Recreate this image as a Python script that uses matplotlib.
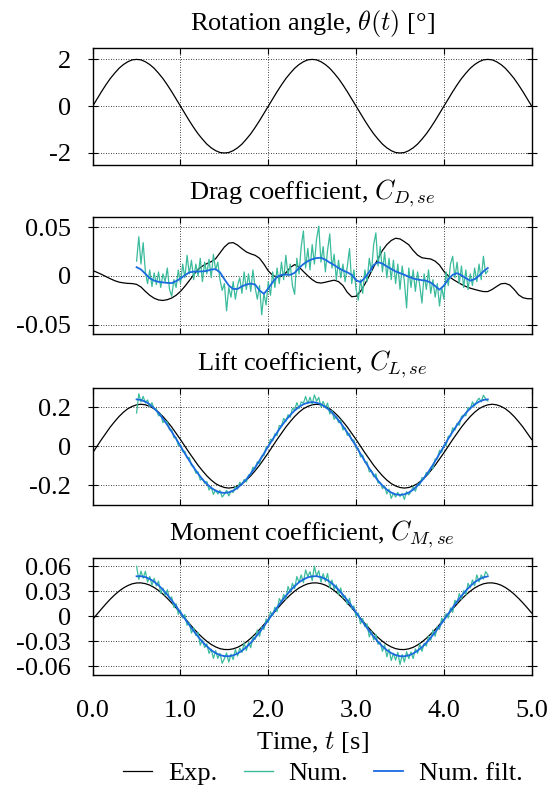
import numpy as np
import matplotlib
matplotlib.use('Agg')
import matplotlib.pyplot as plt
from matplotlib.lines import Line2D

plt.rcParams['font.family'] = ['Liberation Serif', 'DejaVu Serif']
plt.rcParams['mathtext.fontset'] = 'cm'
plt.rcParams['axes.unicode_minus'] = False
FS = 19

# ---------------- data ----------------
# Rotation angle (experiment), t = 0 .. 5 s, 0.05 s step
theta_exp = [0, 0.31, 0.62, 0.91, 1.18, 1.41, 1.62, 1.78, 1.90, 1.98, 2.00, 1.98, 1.90, 1.78, 1.62, 1.41, 1.18, 0.91, 0.62, 0.31,
             0, -0.31, -0.62, -0.91, -1.18, -1.41, -1.62, -1.78, -1.90, -1.98, -2.00, -1.98, -1.90, -1.78, -1.62, -1.41, -1.18, -0.91, -0.62, -0.31,
             0, 0.31, 0.62, 0.91, 1.18, 1.41, 1.62, 1.78, 1.90, 1.98, 2.00, 1.98, 1.90, 1.78, 1.62, 1.41, 1.18, 0.91, 0.62, 0.31,
             0, -0.31, -0.62, -0.91, -1.18, -1.41, -1.62, -1.78, -1.90, -1.98, -2.00, -1.98, -1.90, -1.78, -1.62, -1.41, -1.18, -0.91, -0.62, -0.31,
             0, 0.31, 0.62, 0.91, 1.18, 1.41, 1.62, 1.78, 1.90, 1.98, 2.00, 1.98, 1.90, 1.78, 1.62, 1.41, 1.18, 0.91, 0.62, 0.31,
             0]

# Drag coefficient (experiment), t = 0 .. 5 s, 0.05 s step
cd_exp = [0.0055, 0.0035, 0.0015, -0.0008, -0.0030, -0.0050, -0.0065, -0.0073, -0.0078, -0.0080,
          -0.0088, -0.0115, -0.0160, -0.0200, -0.0230, -0.0248, -0.0253, -0.0245, -0.0228, -0.0200,
          -0.0160, -0.0108, -0.0050, 0.0010, 0.0065, 0.0100, 0.0125, 0.0145, 0.0175, 0.0235,
          0.0295, 0.0335, 0.0340, 0.0315, 0.0278, 0.0245, 0.0225, 0.0210, 0.0180, 0.0120,
          0.0050, 0.0005, -0.0015, -0.0005, 0.0030, 0.0085, 0.0115, 0.0090, 0.0044, 0.0000,
          -0.0040, -0.0068, -0.0075, -0.0066, -0.0055, -0.0045, -0.0060, -0.0100, -0.0170, -0.0215,
          -0.0210, -0.0160, -0.0085, 0.0000, 0.0090, 0.0175, 0.0260, 0.0320, 0.0362, 0.0385,
          0.0378, 0.0350, 0.0318, 0.0260, 0.0212, 0.0185, 0.0178, 0.0172, 0.0150, 0.0110,
          0.0045, 0.0000, -0.0035, -0.0062, -0.0088, -0.0110, -0.0127, -0.0140, -0.0152, -0.0162,
          -0.0162, -0.0140, -0.0110, -0.0082, -0.0078, -0.0095, -0.0140, -0.0195, -0.0225, -0.0235,
          -0.0236]

# Drag coefficient (numerical, raw), t = 0.5 .. 4.5 s, 0.025 s step
cd_num = [0.015, 0.040, 0.012, 0.034, 0.004, -0.008, 0.006, -0.011, 0.003, -0.009,
          0.004, -0.012, 0.002, -0.006, 0.008, -0.014, -0.021, -0.004, -0.012, 0.006,
          -0.008, 0.012, -0.002, 0.021, 0.002, 0.016, -0.004, 0.012, 0.000, 0.018,
          -0.006, 0.014, 0.002, 0.017, -0.002, 0.022, 0.006, 0.014, -0.004, -0.015,
          -0.008, -0.036, -0.012, -0.022, -0.006, -0.024, -0.010, -0.002, -0.018, 0.004,
          -0.014, 0.002, -0.016, 0.006, -0.012, -0.024, -0.010, -0.040, -0.018, -0.030,
          -0.006, -0.020, 0.004, -0.012, 0.008, -0.008, 0.014, -0.004, 0.021, 0.000,
          0.012, -0.010, -0.019, 0.018, 0.002, 0.030, 0.046, 0.008, 0.028, 0.006,
          0.032, 0.012, 0.038, 0.051, 0.014, 0.030, 0.004, 0.026, 0.043, 0.008,
          0.022, -0.004, 0.016, -0.002, 0.012, -0.006, 0.010, 0.028, -0.008, 0.006,
          -0.014, -0.025, -0.004, -0.018, 0.006, -0.006, 0.018, 0.004, 0.032, 0.044,
          0.010, 0.030, 0.004, 0.024, -0.002, 0.018, -0.004, 0.016, -0.008, 0.012,
          -0.014, 0.010, -0.006, -0.033, 0.008, -0.012, 0.006, -0.016, 0.004, -0.010,
          -0.028, 0.002, -0.014, 0.006, -0.018, -0.004, -0.022, -0.008, -0.031, -0.012,
          -0.024, 0.004, -0.010, 0.012, 0.020, -0.002, 0.014, -0.008, 0.010, -0.012,
          0.006, -0.014, 0.002, -0.010, 0.008, -0.006, 0.012, -0.004, 0.020, 0.002,
          0.005]

# Drag coefficient (numerical, filtered), t = 0.5 .. 4.5 s, 0.05 s step
cd_filt = [0.0088, 0.0065, 0.0020, -0.0025, -0.0050, -0.0062, -0.0068, -0.0073, -0.0075, -0.0055,
           -0.0028, 0.0005, 0.0035, 0.0042, 0.0044, 0.0045, 0.0050, 0.0065, 0.0068, 0.0035,
           -0.0035, -0.0100, -0.0135, -0.0135, -0.0108, -0.0090, -0.0080, -0.0090, -0.0150, -0.0185,
           -0.0130, -0.0065, -0.0010, 0.0010, 0.0012, 0.0010, 0.0030, 0.0080, 0.0120, 0.0150,
           0.0170, 0.0182, 0.0185, 0.0165, 0.0135, 0.0110, 0.0080, 0.0055, 0.0035, 0.0010,
           -0.0045, -0.0065, -0.0020, 0.0040, 0.0110, 0.0140, 0.0125, 0.0096, 0.0070, 0.0045,
           0.0027, 0.0010, -0.0010, -0.0028, -0.0038, -0.0045, -0.0051, -0.0070, -0.0105, -0.0143,
           -0.0100, -0.0035, 0.0010, 0.0027, 0.0005, -0.0025, -0.0050, -0.0035, 0.0000, 0.0045,
           0.0080]

# Lift coefficient (experiment), t = 0 .. 5 s, 0.05 s step
cl_exp = [-0.034,
          0, 0.034, 0.066, 0.098, 0.126, 0.152, 0.174, 0.192, 0.204, 0.212, 0.215, 0.212, 0.204, 0.192, 0.174, 0.152, 0.126, 0.098, 0.066, 0.034,
          0, -0.034, -0.066, -0.098, -0.126, -0.152, -0.174, -0.192, -0.204, -0.212, -0.215, -0.212, -0.204, -0.192, -0.174, -0.152, -0.126, -0.098, -0.066, -0.034,
          0, 0.034, 0.066, 0.098, 0.126, 0.152, 0.174, 0.192, 0.204, 0.212, 0.215, 0.212, 0.204, 0.192, 0.174, 0.152, 0.126, 0.098, 0.066, 0.034,
          0, -0.034, -0.066, -0.098, -0.126, -0.152, -0.174, -0.192, -0.204, -0.212, -0.215, -0.212, -0.204, -0.192, -0.174, -0.152, -0.126, -0.098, -0.066, -0.034,
          0, 0.034, 0.066, 0.098, 0.126, 0.152, 0.174, 0.192, 0.204, 0.212, 0.215, 0.212, 0.204, 0.192, 0.174, 0.152, 0.126, 0.098, 0.066, 0.034]

# Lift coefficient (numerical, raw), t = 0.5 .. 4.5 s, 0.025 s step
cl_num = [0.170, 0.269, 0.227, 0.255, 0.222, 0.237, 0.202, 0.223, 0.190, 0.192,
          0.155, 0.164, 0.121, 0.131, 0.123, 0.084, 0.084, 0.044, 0.043, 0.003,
          0.007, -0.029, -0.026, -0.060, -0.058, -0.100, -0.103, -0.139, -0.132, -0.174,
          -0.166, -0.191, -0.181, -0.225, -0.209, -0.247, -0.225, -0.245, -0.227, -0.261,
          -0.246, -0.227, -0.255, -0.229, -0.238, -0.207, -0.220, -0.185, -0.197, -0.171,
          -0.184, -0.148, -0.146, -0.108, -0.118, -0.080, -0.090, -0.050, -0.049, -0.005,
          -0.004, 0.036, 0.027, 0.063, 0.055, 0.106, 0.103, 0.143, 0.127, 0.161,
          0.148, 0.194, 0.187, 0.223, 0.193, 0.227, 0.221, 0.255, 0.218, 0.251,
          0.216, 0.263, 0.231, 0.250, 0.201, 0.229, 0.197, 0.221, 0.165, 0.182,
          0.138, 0.153, 0.121, 0.134, 0.083, 0.094, 0.055, 0.065, 0.029, 0.032,
          -0.010, -0.012, -0.055, -0.046, -0.082, -0.081, -0.132, -0.125, -0.157, -0.142,
          -0.189, -0.186, -0.218, -0.205, -0.245, -0.221, -0.268, -0.241, -0.261, -0.237,
          -0.258, -0.243, -0.273, -0.233, -0.250, -0.233, -0.209, -0.231, -0.194, -0.200,
          -0.161, -0.168, -0.135, -0.145, -0.108, -0.116, -0.067, -0.066, -0.021, -0.032,
          0.004, 0.003, 0.052, 0.050, 0.094, 0.082, 0.117, 0.107, 0.153, 0.158,
          0.156, 0.198, 0.190, 0.227, 0.206, 0.232, 0.246, 0.227, 0.261, 0.243,
          0.232]

# Lift coefficient (numerical, filtered), t = 0.5 .. 4.5 s, 0.05 s step
cl_filt = [0.240, 0.237, 0.228, 0.214, 0.194, 0.170, 0.141, 0.109, 0.074, 0.038,
           0, -0.038, -0.074, -0.109, -0.141, -0.170, -0.194, -0.214, -0.228, -0.237,
           -0.240, -0.237, -0.228, -0.214, -0.194, -0.170, -0.141, -0.109, -0.074, -0.038,
           0, 0.035, 0.070, 0.103, 0.133, 0.160, 0.183, 0.201, 0.215, 0.223,
           0.226, 0.223, 0.215, 0.201, 0.183, 0.160, 0.133, 0.103, 0.070, 0.035,
           0, -0.039, -0.077, -0.114, -0.147, -0.177, -0.202, -0.223, -0.238, -0.247,
           -0.250, -0.247, -0.238, -0.223, -0.202, -0.177, -0.147, -0.114, -0.077, -0.039,
           0, 0.038, 0.074, 0.109, 0.141, 0.170, 0.194, 0.214, 0.228, 0.237,
           0.240]

# Moment coefficient (experiment), t = 0 .. 5 s, 0.05 s step
cm_exp = [-0.0038,
          0.0025, 0.0087, 0.0147, 0.0204, 0.0255, 0.0300, 0.0338, 0.0367, 0.0388, 0.0398, 0.0399, 0.0390, 0.0372, 0.0344, 0.0308, 0.0264, 0.0214, 0.0159, 0.0100, 0.0038,
          -0.0025, -0.0087, -0.0147, -0.0204, -0.0255, -0.0300, -0.0338, -0.0367, -0.0388, -0.0398, -0.0399, -0.0390, -0.0372, -0.0344, -0.0308, -0.0264, -0.0214, -0.0159, -0.0100, -0.0038,
          0.0025, 0.0087, 0.0147, 0.0204, 0.0255, 0.0300, 0.0338, 0.0367, 0.0388, 0.0398, 0.0399, 0.0390, 0.0372, 0.0344, 0.0308, 0.0264, 0.0214, 0.0159, 0.0100, 0.0038,
          -0.0025, -0.0087, -0.0147, -0.0204, -0.0255, -0.0300, -0.0338, -0.0367, -0.0388, -0.0398, -0.0399, -0.0390, -0.0372, -0.0344, -0.0308, -0.0264, -0.0214, -0.0159, -0.0100, -0.0038,
          0.0025, 0.0087, 0.0147, 0.0204, 0.0255, 0.0300, 0.0338, 0.0367, 0.0388, 0.0398, 0.0399, 0.0390, 0.0372, 0.0344, 0.0308, 0.0264, 0.0214, 0.0159, 0.0100, 0.0038]

# Moment coefficient (numerical, raw), t = 0.5 .. 4.5 s, 0.025 s step
cm_num = [0.0598, 0.0440, 0.0539, 0.0455, 0.0538, 0.0409, 0.0476, 0.0371, 0.0453, 0.0363,
          0.0420, 0.0275, 0.0337, 0.0248, 0.0317, 0.0205, 0.0231, 0.0105, 0.0149, 0.0023,
          0.0065, -0.0022, 0.0020, -0.0108, -0.0075, -0.0201, -0.0137, -0.0231, -0.0194, -0.0346,
          -0.0286, -0.0374, -0.0330, -0.0444, -0.0395, -0.0504, -0.0411, -0.0504, -0.0445, -0.0563,
          -0.0508, -0.0440, -0.0549, -0.0455, -0.0518, -0.0399, -0.0476, -0.0381, -0.0433, -0.0323,
          -0.0410, -0.0315, -0.0377, -0.0248, -0.0277, -0.0165, -0.0241, -0.0125, -0.0159, -0.0033,
          -0.0075, 0.0052, 0.0010, 0.0108, 0.0055, 0.0211, 0.0167, 0.0261, 0.0204, 0.0356,
          0.0286, 0.0394, 0.0330, 0.0474, 0.0405, 0.0494, 0.0401, 0.0554, 0.0475, 0.0533,
          0.0428, 0.0600, 0.0479, 0.0545, 0.0408, 0.0509, 0.0416, 0.0511, 0.0343, 0.0433,
          0.0320, 0.0375, 0.0257, 0.0338, 0.0217, 0.0245, 0.0141, 0.0215, 0.0089, 0.0123,
          -0.0005, 0.0038, -0.0090, -0.0028, -0.0125, -0.0091, -0.0247, -0.0181, -0.0284, -0.0216,
          -0.0336, -0.0314, -0.0420, -0.0344, -0.0485, -0.0394, -0.0531, -0.0444, -0.0525, -0.0433,
          -0.0578, -0.0460, -0.0549, -0.0425, -0.0508, -0.0429, -0.0506, -0.0391, -0.0443, -0.0333,
          -0.0420, -0.0325, -0.0357, -0.0238, -0.0287, -0.0165, -0.0241, -0.0125, -0.0159, -0.0023,
          -0.0065, 0.0032, -0.0020, 0.0098, 0.0045, 0.0191, 0.0157, 0.0271, 0.0204, 0.0306,
          0.0256, 0.0394, 0.0340, 0.0434, 0.0365, 0.0494, 0.0411, 0.0494, 0.0445, 0.0533,
          0.0498]

# Moment coefficient (numerical, filtered), t = 0.5 .. 4.5 s, 0.05 s step
cm_filt = [0.0478, 0.0479, 0.0468, 0.0446, 0.0413, 0.0370, 0.0317, 0.0257, 0.0191, 0.0120,
           0.0045, -0.0030, -0.0105, -0.0177, -0.0244, -0.0306, -0.0360, -0.0406, -0.0441, -0.0465,
           -0.0478, -0.0479, -0.0468, -0.0446, -0.0413, -0.0370, -0.0317, -0.0257, -0.0191, -0.0120,
           -0.0045, 0.0030, 0.0105, 0.0177, 0.0244, 0.0306, 0.0360, 0.0406, 0.0441, 0.0465,
           0.0478, 0.0479, 0.0468, 0.0446, 0.0413, 0.0370, 0.0317, 0.0257, 0.0191, 0.0120,
           0.0045, -0.0030, -0.0105, -0.0177, -0.0244, -0.0306, -0.0360, -0.0406, -0.0441, -0.0465,
           -0.0478, -0.0479, -0.0468, -0.0446, -0.0413, -0.0370, -0.0317, -0.0257, -0.0191, -0.0120,
           -0.0045, 0.0030, 0.0105, 0.0177, 0.0244, 0.0306, 0.0360, 0.0406, 0.0441, 0.0465,
           0.0478]

titles = [r'Rotation angle, $\theta(t)$ [°]', r'Drag coefficient, $C_{D,se}$',
          r'Lift coefficient, $C_{L,se}$', r'Moment coefficient, $C_{M,se}$']
ylims = [(-2.5, 2.5), (-0.06, 0.06), (-0.3, 0.3), (-0.07, 0.07)]
yticks = [[-2, 0, 2], [-0.05, 0, 0.05], [-0.2, 0, 0.2], [-0.06, -0.03, 0, 0.03, 0.06]]
yticklabels = [['-2', '0', '2'], ['-0.05', '0', '0.05'], ['-0.2', '0', '0.2'],
               ['-0.06', '-0.03', '0', '0.03', '0.06']]
xticks = [0, 1, 2, 3, 4, 5]
xticklabels = ['0.0', '1.0', '2.0', '3.0', '4.0', '5.0']
legend_labels = ['Exp.', 'Num.', 'Num. filt.']

C_EXP = 'black'
C_NUM = '#3bbb9c'
C_FILT = '#1a6ae0'

# ---------------- figure ----------------
fig = plt.figure(figsize=(5.53, 7.91), dpi=100)
left, width, height = 0.1676, 0.7939, 0.1479
bottoms = [0.7918, 0.5774, 0.3620, 0.1470]
axes = [fig.add_axes([left, b, width, height]) for b in bottoms]

series = [
    (theta_exp, None, None),
    (cd_exp, cd_num, cd_filt),
    (cl_exp, cl_num, cl_filt),
    (cm_exp, cm_num, cm_filt),
]

for k, ax in enumerate(axes):
    exp, num, filt = series[k]
    ax.plot(np.linspace(0, 5, len(exp)), exp, color=C_EXP, lw=0.9, zorder=3)
    if num is not None:
        ax.plot(np.linspace(0.5, 4.5, len(num)), num, color=C_NUM, lw=0.9, zorder=4)
        ax.plot(np.linspace(0.5, 4.5, len(filt)), filt, color=C_FILT, lw=1.3, zorder=5)
    ax.set_xlim(0, 5)
    ax.set_ylim(*ylims[k])
    ax.set_yticks(yticks[k])
    ax.set_yticklabels(yticklabels[k], fontsize=FS)
    ax.set_xticks(xticks)
    if k == 3:
        ax.set_xticklabels(xticklabels, fontsize=FS)
        ax.set_xlabel(r'Time, $t$ [s]', fontsize=FS, labelpad=5)
    else:
        ax.set_xticklabels([])
    ax.set_title(titles[k], fontsize=FS, pad=13)
    ax.grid(True, color='black', linestyle=(0, (1, 2)), linewidth=0.6)
    ax.set_axisbelow(True)
    ax.tick_params(axis='x', direction='in', length=4, width=0.8, top=True, bottom=True, pad=18)
    ax.tick_params(axis='y', direction='inout', length=7, width=0.8, left=True, right=True, pad=12)
    for s in ax.spines.values():
        s.set_linewidth(1.0)

handles = [Line2D([], [], color=C_EXP, lw=0.9),
           Line2D([], [], color=C_NUM, lw=1.0),
           Line2D([], [], color=C_FILT, lw=1.3)]
fig.legend(handles, legend_labels, ncol=3, loc='center',
           bbox_to_anchor=(323 / 553, 1 - 773 / 791), frameon=False, fontsize=FS,
           handlelength=1.1, handletextpad=0.6, columnspacing=1.0, borderpad=0.2)

fig.savefig('out.png', dpi=100)
